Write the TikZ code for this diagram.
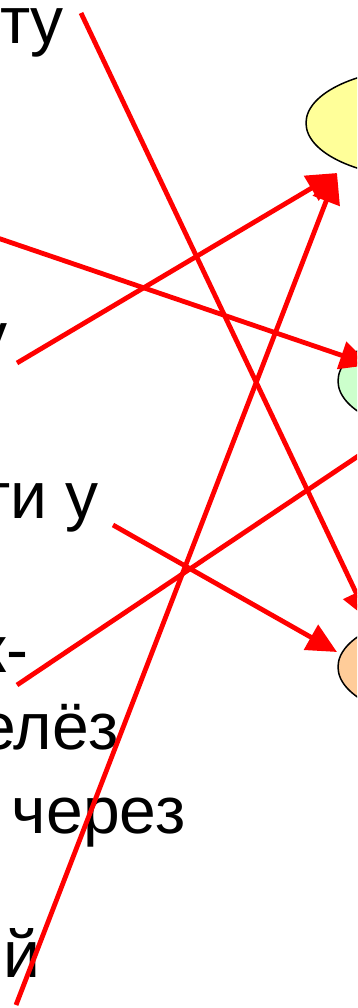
\documentclass[tikz,border=0pt]{standalone}
\usepackage{fontspec}
\setmainfont{Liberation Sans}
\usetikzlibrary{shapes.geometric,arrows.meta}
\definecolor{yel}{HTML}{FFFF99}
\definecolor{grn}{HTML}{CCFFCC}
\definecolor{org}{HTML}{FFCC99}
\definecolor{lnred}{HTML}{FF0000}
\tikzset{
  txt/.style={inner sep=0pt,outer sep=0pt,font=\fontsize{66}{78}\selectfont},
  oval/.style={ellipse,draw=black,line width=1.5pt,minimum width=240pt,minimum height=110pt,inner sep=0pt},
  link/.style={draw=lnred,line width=4.8pt,-{Triangle[length=30pt,width=28pt]}},
  plain/.style={draw=lnred,line width=4.8pt}
}
\begin{document}
\begin{tikzpicture}[x=1pt,y=-1pt]
\useasboundingbox (0,0) rectangle (357,1008);
\clip (0,0) rectangle (357,1008);
% ovals (mostly beyond the right edge)
\node[oval,fill=yel] (oy) at (426,123) {};
\node[oval,fill=grn] (og) at (458,381) {};
\node[oval,fill=org] (oo) at (458,667) {};
% texts
\node[txt,anchor=base east] (t1) at (64,44) {ту};
\node[txt,anchor=base east] (t2) at (8,358) {у};
\node[txt,anchor=base east] (t3) at (99,518) {ти у};
\node[txt,anchor=base east] (t4) at (28,672) {к-};
\node[txt,anchor=base east] (t5) at (119,749) {елёз};
\node[txt,anchor=base west] (t6) at (12,833) {через};
\node[txt,anchor=base west] (t7) at (3,977) {й};
% connector end points
\coordinate (s1) at (81,13);
\coordinate (e1) at (369,620);
\coordinate (s2) at (-20,232);
\coordinate (e2) at (370,365);
\coordinate (s3) at (17,363);
\coordinate (e3) at (337,173);
\coordinate (s4) at (16,1005);
\coordinate (s5) at (113,525);
\coordinate (e5) at (337,652);
\coordinate (s6) at (17,685);
\coordinate (e6) at (400,428);
% connectors
\draw[link] (s1) -- (e1);
\draw[link] (s2) -- (e2);
\draw[link] (s3) -- (e3);
\draw[link] (s4) -- (e3);
\draw[link] (s5) -- (e5);
\draw[link] (s6) -- (e6);
\end{tikzpicture}
\end{document}
